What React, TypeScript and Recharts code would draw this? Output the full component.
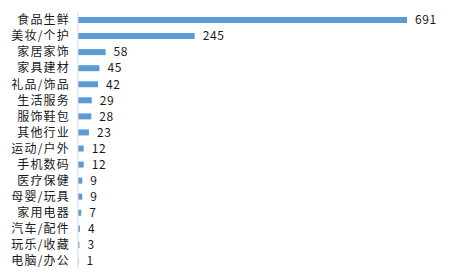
import { BarChart, Bar, XAxis, YAxis, LabelList } from 'recharts';

const categories = [
  '食品生鲜', '美妆/个护', '家居家饰', '家具建材', '礼品/饰品', '生活服务', '服饰鞋包', '其他行业',
  '运动/户外', '手机数码', '医疗保健', '母婴/玩具', '家用电器', '汽车/配件', '玩乐/收藏', '电脑/办公',
];
const counts = [691, 245, 58, 45, 42, 29, 28, 23, 12, 12, 9, 9, 7, 4, 3, 1];

const data = categories.map((name, i) => ({ name, value: counts[i] }));

const font = '"Noto Sans CJK SC", sans-serif';

export default function App() {
  return (
    <div style={{ position: 'fixed', left: 0, top: 0, background: '#fff' }}>
      <BarChart
        width={474}
        height={276}
        layout="vertical"
        data={data}
        margin={{ top: 12, right: 67, bottom: 7, left: 0 }}
        barSize={6}
      >
        <XAxis type="number" domain={[0, 691]} hide />
        <YAxis
          type="category"
          dataKey="name"
          width={78}
          axisLine={{ stroke: '#d9d9d9' }}
          tickLine={false}
          interval={0}
          tick={{ fontSize: 12, fill: '#1a1a1a', fontFamily: font, letterSpacing: 1.2 }}
        />
        <Bar dataKey="value" fill="#5b9bd5" isAnimationActive={false}>
          <LabelList
            dataKey="value"
            position="right"
            offset={8}
            fontSize={12}
            fill="#1a1a1a"
            fontFamily={font}
            style={{ letterSpacing: 0.6 }}
          />
        </Bar>
      </BarChart>
    </div>
  );
}
